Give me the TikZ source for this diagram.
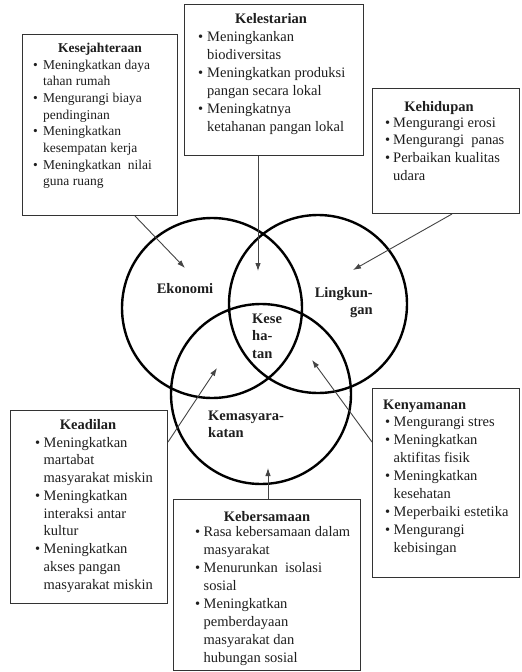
\documentclass[tikz,border=0pt]{standalone}
\usepackage{fontspec}
\setmainfont{Liberation Serif}
\usetikzlibrary{arrows.meta,calc}
\newlength\bulw
\setlength\bulw{9pt}
\newcommand\itm{\par\noindent\hangindent=\bulw\hangafter=1\makebox[\bulw][l]{\textbullet}}
\newcommand\lstbox[1]{\parbox[t]{220pt}{\raggedright\def\\{\hfil\break}\noindent#1}}
\definecolor{ink}{HTML}{1E1E1E}
\definecolor{boxline}{HTML}{333333}
\definecolor{arrline}{HTML}{444444}
\tikzset{
  infobox/.style={draw=boxline, line width=1pt, rectangle, anchor=north west, inner sep=0pt},
  ttl/.style={font=\fontsize{14.5}{17.5}\selectfont\bfseries, text=ink, anchor=base, inner sep=0pt},
  lst/.style={text=ink, anchor=base west, inner sep=0pt},
  circ/.style={draw=black, line width=2.4pt, circle, minimum size=180pt, inner sep=0pt},
  lbl/.style={font=\fontsize{14.5}{17}\selectfont\bfseries, text=ink, inner sep=0pt},
  arr/.style={draw=arrline, line width=0.9pt, -{Latex[length=8pt,width=5.5pt]}}
}
\begin{document}
\begin{tikzpicture}[x=1pt,y=-1pt]
\useasboundingbox[fill=white] (0,0) rectangle (522,672);

% circles
\node[circ] (eko) at (212,308) {};
\node[circ, minimum size=178pt] (lin) at (318,304) {};
\node[circ] (kem) at (261,394) {};

% circle labels
\node[lbl, anchor=base] (ekoL) at (185,293) {Ekonomi};
\node[lbl, anchor=base east] (linL) at (373,297) {\parbox[t]{70pt}{\raggedleft Lingkun-\\gan}};
\node[lbl, anchor=base west] (kesL) at (252,323) {\parbox[t]{40pt}{\raggedright Kese\\[0.5pt]ha-\\[0.5pt]tan}};
\node[lbl, anchor=base west] (kemL) at (208,420) {\parbox[t]{90pt}{\raggedright Kemasyara-\\katan}};

% boxes
\node[infobox, minimum width=155pt, minimum height=181pt] (kes) at (22,34) {};
\node[infobox, minimum width=179pt, minimum height=151pt] (kel) at (184,4) {};
\node[infobox, minimum width=147pt, minimum height=125pt] (keh) at (372,88) {};
\node[infobox, minimum width=157pt, minimum height=193pt] (kea) at (10,410) {};
\node[infobox, minimum width=187pt, minimum height=171pt] (keb) at (173,499) {};
\node[infobox, minimum width=147pt, minimum height=189pt] (ken) at (372,388) {};

% titles
\node[ttl, font=\fontsize{13.5}{16.7}\selectfont\bfseries] (kesT) at (100,52) {Kesejahteraan};
\node[ttl] (kelT) at (271,23) {Kelestarian};
\node[ttl] (kehT) at (439,111) {Kehidupan};
\node[ttl] (keaT) at (88,429) {Keadilan};
\node[ttl] (kebT) at (267,521) {Kebersamaan};
\node[ttl, anchor=base west] (kenT) at (383,409) {Kenyamanan};

% lists
\node[lst, font=\fontsize{13.5}{16.7}\selectfont] (kesX) at (33,69) {\setlength\bulw{10pt}\lstbox{%
\itm Meningkatkan daya\\tahan rumah
\itm Mengurangi biaya\\pendinginan
\itm Meningkatkan\\kesempatan kerja
\itm Meningkatkan\ \ nilai\\guna ruang}};

\node[lst, font=\fontsize{14.5}{18}\selectfont] (kelX) at (198,41) {\lstbox{%
\itm Meningkankan\\biodiversitas
\itm Meningkatkan produksi\\pangan secara lokal
\itm Meningkatnya\\ketahanan pangan lokal}};

\node[lst, font=\fontsize{14.5}{17.7}\selectfont] (kehX) at (385,127) {\setlength\bulw{8pt}\lstbox{%
\itm Mengurangi erosi
\itm Mengurangi\ \ panas
\itm Perbaikan kualitas\\udara}};

\node[lst, font=\fontsize{14.5}{17.75}\selectfont] (keaX) at (35,447) {\setlength\bulw{8.5pt}\lstbox{%
\itm Meningkatkan\\martabat\\masyarakat miskin
\itm Meningkatkan\\interaksi antar\\kultur
\itm Meningkatkan\\akses pangan\\masyarakat miskin}};

\node[lst, font=\fontsize{14.5}{18}\selectfont] (kebX) at (195,536) {\setlength\bulw{8.5pt}\lstbox{%
\itm Rasa kebersamaan dalam\\masyarakat
\itm Menurunkan\ \ isolasi\\sosial
\itm Meningkatkan\\pemberdayaan\\masyarakat dan\\hubungan sosial}};

\node[lst, font=\fontsize{14.5}{18}\selectfont] (kenX) at (385,426) {\setlength\bulw{8.5pt}\lstbox{%
\itm Mengurangi stres
\itm Meningkatkan\\aktifitas fisik
\itm Meningkatkan\\kesehatan
\itm Meperbaiki estetika
\itm Mengurangi\\kebisingan}};

% arrow tips
\coordinate (t1) at (185,268);
\coordinate (t2) at (258,271);
\coordinate (t3) at (353,270);
\coordinate (t4) at (217,368);
\coordinate (t5) at (268,468);
\coordinate (t6) at (312,360);

% arrows
\draw[arr] ($(kes.south west)+(113,0)$) -- (t1);
\draw[arr] ($(kel.south west)+(74,0)$) -- (t2);
\draw[arr] ($(keh.south west)+(80,0)$) -- (t3);
\draw[arr] ($(kea.north east)+(0,32)$) -- (t4);
\draw[arr] ($(keb.north west)+(95,0)$) -- (t5);
\draw[arr] ($(ken.north west)+(0,54)$) -- (t6);
\end{tikzpicture}
\end{document}
